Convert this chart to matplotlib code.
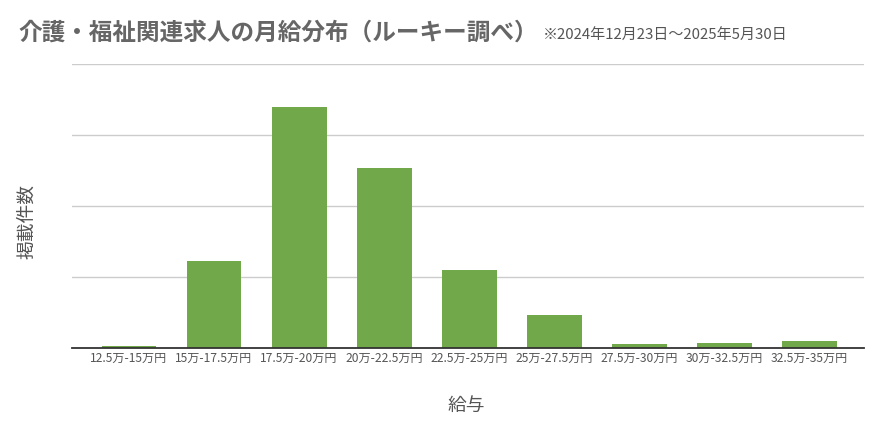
import matplotlib
matplotlib.use("Agg")
import matplotlib.pyplot as plt

plt.rcParams['font.family'] = ['Noto Sans CJK JP', 'DejaVu Sans']

categories = ["12.5万-15万円", "15万-17.5万円", "17.5万-20万円", "20万-22.5万円",
              "22.5万-25万円", "25万-27.5万円", "27.5万-30万円", "30万-32.5万円",
              "32.5万-35万円"]
counts = [3, 122, 340, 254, 110, 46, 6, 7, 10]
grid_levels = [100, 200, 300, 400]

title = "介護・福祉関連求人の月給分布（ルーキー調べ）"
subtitle = "※2024年12月23日～2025年5月30日"
xlabel = "給与"
ylabel = "掲載件数"

fig = plt.figure(figsize=(8.82, 4.36), dpi=100)
ax = fig.add_axes([0.0816, 0.2018, 0.898, 0.6514])

x = list(range(len(categories)))
ax.bar(x, counts, width=0.645, color="#71a84a", zorder=3)

ax.set_xlim(-0.67, len(categories) - 1 + 0.64)
ax.set_ylim(0, 400)
ax.set_yticks(grid_levels)
ax.set_yticklabels([])
ax.tick_params(axis='y', length=0)
ax.grid(axis='y', color="#cccccc", linewidth=1.0, zorder=0)
ax.set_xticks(x)
ax.set_xticklabels(categories, fontsize=8.7, color="#555555")
ax.tick_params(axis='x', length=0, pad=3)
for s in ['top', 'right', 'left']:
    ax.spines[s].set_visible(False)
ax.spines['bottom'].set_color("#333333")
ax.spines['bottom'].set_linewidth(1.3)
ax.spines['bottom'].set_zorder(4)

ax.set_xlabel(xlabel, fontsize=13.5, color="#555555")
ax.xaxis.set_label_coords(0.4975, -(405 - 348) / 284, transform=ax.transAxes)
ax.xaxis.label.set_va('center')
ax.set_ylabel(ylabel, fontsize=13.5, color="#555555")
ax.yaxis.set_label_coords((27 - 72) / 792, (348 - 221) / 284, transform=ax.transAxes)
ax.yaxis.label.set_va('center')

fig.text(18 / 882, 1 - 33 / 436, title, fontsize=17, fontweight='bold',
         color="#666666", va='center', ha='left')
fig.text(543 / 882, 1 - 35 / 436, subtitle, fontsize=10.8, color="#555555",
         va='center', ha='left')

fig.savefig("out.png", dpi=100)
